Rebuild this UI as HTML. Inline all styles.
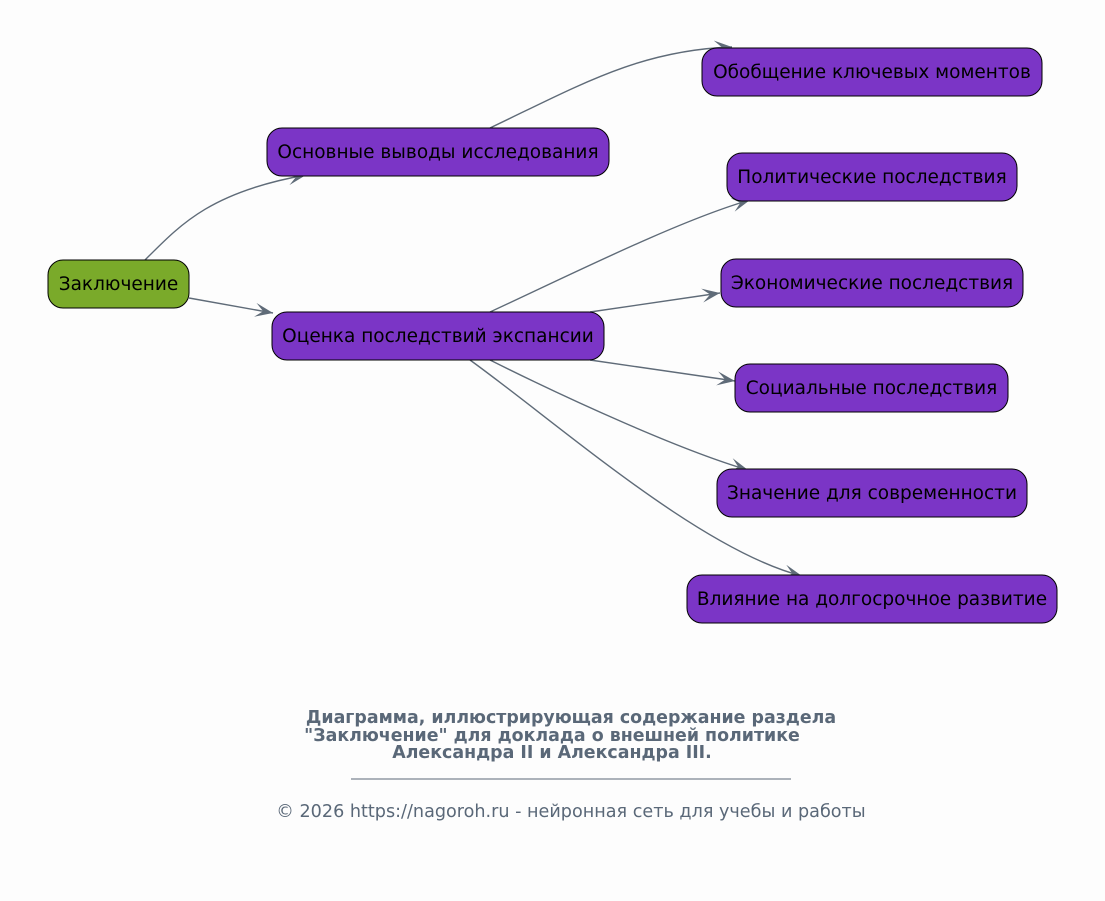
<!DOCTYPE html>
<html><head><meta charset="utf-8"><style>
html,body{margin:0;padding:0;background:#fdfdfd;}
svg text{font-family:"DejaVu Sans","Liberation Sans",sans-serif;}
</style></head><body>
<svg width="1105" height="896" viewBox="0 0 1105 896" xmlns="http://www.w3.org/2000/svg">
<defs>
<marker id="a" markerWidth="20" markerHeight="14" refX="18" refY="7" orient="auto" markerUnits="userSpaceOnUse">
<path d="M0,0 L18,7 L0,14 L8,7 z" fill="#5f6b78"/>
</marker>
</defs>
<g fill="none" stroke="#5f6b78" stroke-width="1.4" marker-end="url(#a)">
<path d="M145,260 C180,225 210,192 306,175"/>
<path d="M189,298 L273,313"/>
<path d="M490,128 C580,85 640,50 732,47"/>
<path d="M490,312 C570,275 680,220 750,200"/>
<path d="M590,312 L720,293"/>
<path d="M590,360 L735,381"/>
<path d="M490,360 C570,400 680,450 748,470"/>
<path d="M470,360 C560,425 700,550 802,576"/>
</g>
<g stroke="#000" stroke-width="1">
<rect x="48" y="260" width="141" height="48" rx="15" fill="#7aaa2a"/>
<rect x="267" y="128" width="342" height="48" rx="15" fill="#7b35c6"/>
<rect x="272" y="312" width="332" height="48" rx="15" fill="#7b35c6"/>
<rect x="702" y="48" width="340" height="48" rx="15" fill="#7b35c6"/>
<rect x="727" y="153" width="290" height="48" rx="15" fill="#7b35c6"/>
<rect x="721" y="259" width="302" height="48" rx="15" fill="#7b35c6"/>
<rect x="735" y="364" width="273" height="48" rx="15" fill="#7b35c6"/>
<rect x="717" y="469" width="310" height="48" rx="15" fill="#7b35c6"/>
<rect x="687" y="575" width="370" height="48" rx="15" fill="#7b35c6"/>
</g>
<g font-size="18.5" fill="#000" text-anchor="middle">
<text x="118.5" y="290">Заключение</text>
<text x="438" y="158">Основные выводы исследования</text>
<text x="438" y="342">Оценка последствий экспансии</text>
<text x="872" y="78">Обобщение ключевых моментов</text>
<text x="872" y="183">Политические последствия</text>
<text x="872" y="289">Экономические последствия</text>
<text x="871.5" y="394">Социальные последствия</text>
<text x="872" y="499">Значение для современности</text>
<text x="872" y="605">Влияние на долгосрочное развитие</text>
</g>
<g fill="#5a6878" text-anchor="middle">
<text x="571" y="723" font-size="17.4" font-weight="bold">Диаграмма, иллюстрирующая содержание раздела</text>
<text x="552" y="741" font-size="17.4" font-weight="bold">"Заключение" для доклада о внешней политике</text>
<text x="552" y="758" font-size="17.4" font-weight="bold">Александра II и Александра III.</text>
<line x1="351" y1="779" x2="791" y2="779" stroke="#5a6878" stroke-width="1"/>
<text x="571" y="817" font-size="17.6">© 2026 https://nagoroh.ru - нейронная сеть для учебы и работы</text>
</g>
</svg>
</body></html>
